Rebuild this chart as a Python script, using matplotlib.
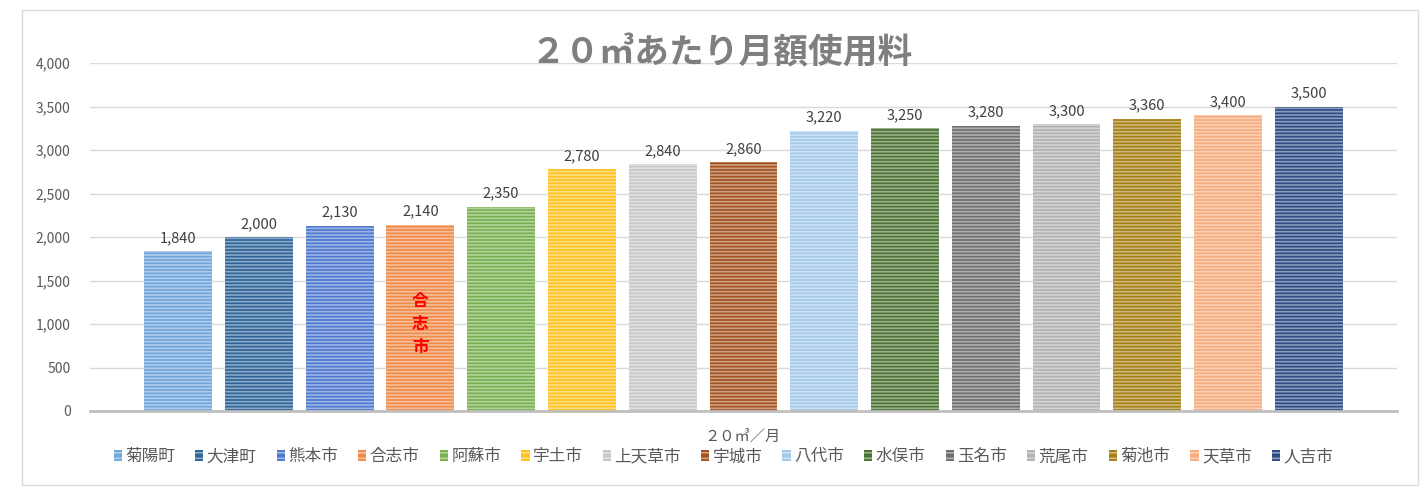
import matplotlib.pyplot as plt
from matplotlib.patches import Rectangle
from matplotlib.ticker import FuncFormatter

plt.rcParams['font.family'] = ['Noto Sans CJK JP', 'DejaVu Sans']
plt.rcParams['hatch.linewidth'] = 1.2

cities = ['菊陽町', '大津町', '熊本市', '合志市', '阿蘇市', '宇土市', '上天草市', '宇城市',
          '八代市', '水俣市', '玉名市', '荒尾市', '菊池市', '天草市', '人吉市']
fees = [1840, 2000, 2130, 2140, 2350, 2780, 2840, 2860,
        3220, 3250, 3280, 3300, 3360, 3400, 3500]
colors = ['#6FA5DA', '#2E6497', '#4E79CF', '#F08A48', '#76B04F', '#FFC31F', '#C8C8C8', '#A4521F',
          '#A3C8EA', '#4A7232', '#6E6E6E', '#B2B2B2', '#A57F12', '#F6AC7C', '#2D4B85']

fig = plt.figure(figsize=(14.24, 4.95), dpi=100)
ax = fig.add_axes([0.0632, 0.1697, 0.9178, 0.703])

x = range(len(cities))
bars = ax.bar(x, fees, width=0.84, color=colors, linewidth=0, zorder=2)
# narrow horizontal stripe pattern
ax.bar(x, fees, width=0.84, facecolor='none', edgecolor=(1, 1, 1, 0.45),
       hatch='-----', linewidth=0, zorder=3)

for b, v in zip(bars, fees):
    ax.text(b.get_x() + b.get_width() / 2, v + 70, f'{v:,}', ha='center', va='bottom',
            fontsize=10.5, color='#404040')

# highlighted city label inside its bar
i = cities.index('合志市')
ax.text(i, 1000, '合\n志\n市', ha='center', va='center', fontsize=12, color='#FF0000',
        fontweight='bold', linespacing=1.35, zorder=4)

ax.set_xlim(-1.09, len(cities) - 1 + 1.09)
ax.set_ylim(0, 4000)
ax.set_yticks(range(0, 4001, 500))
ax.yaxis.set_major_formatter(FuncFormatter(lambda v, p: f'{int(v):,}'))
ax.set_xticks([])
ax.tick_params(axis='y', length=0, labelsize=10, labelcolor='#595959', pad=14)
ax.grid(axis='y', color='#D9D9D9', linewidth=1, zorder=0)
for s in ['top', 'right', 'left']:
    ax.spines[s].set_visible(False)
ax.spines['bottom'].set_color('#BFBFBF')
ax.spines['bottom'].set_linewidth(2)
ax.spines['bottom'].set_zorder(5)

fig.text(0.507, 0.893, '２０㎥あたり月額使用料', ha='center', va='center', fontsize=25,
         fontweight='bold', color='#7F7F7F')
fig.text(0.5218, 0.118, '２０㎥／月', ha='center', va='center', fontsize=11, color='#595959')

handles = [Rectangle((0, 0), 1, 1, facecolor=c, edgecolor=(1, 1, 1, 0.45), hatch='---', linewidth=0)
           for c in colors]
fig.legend(handles, cities, loc='center', bbox_to_anchor=(0.508, 0.077), ncol=len(cities),
           frameon=False, fontsize=12, labelcolor='#595959', handlelength=0.5, handleheight=0.6,
           handletextpad=0.2, columnspacing=1.2)

fig.add_artist(Rectangle((0.0155, 0.02), 0.98, 0.96, transform=fig.transFigure,
                         fill=False, edgecolor='#D9D9D9', linewidth=1))

fig.savefig('out.png', dpi=100)
